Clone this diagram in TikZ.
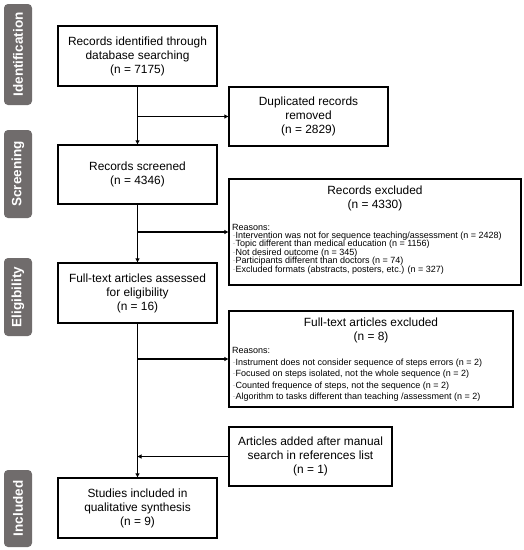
\documentclass[tikz,border=0pt]{standalone}
\usepackage{fontspec}
\setmainfont{Liberation Sans}
\usetikzlibrary{arrows.meta}
\definecolor{labgray}{RGB}{112,108,108}
\begin{document}
\begin{tikzpicture}[x=1pt,y=-1pt,
  box/.style={draw, line width=1.4pt, inner sep=0pt, align=center,
    font=\fontsize{11.9}{14}\selectfont},
  lab/.style={fill=labgray, rounded corners=4pt, rotate=90, text=white,
    inner sep=0pt, font=\fontsize{13.5}{15}\selectfont\bfseries},
  small/.style={anchor=base west, inner sep=0pt, font=\fontsize{9}{9}\selectfont},
  arr/.style={line width=1.5pt, -{Triangle[length=4pt,width=4pt]}}
  ]
\useasboundingbox (0,0) rectangle (524,550);

% stage labels
\node[lab, minimum width=101pt, minimum height=28pt] (lid) at (18,54.5) {Identification};
\node[lab, minimum width=88pt, minimum height=28pt] (lsc) at (18,174) {Screening};
\node[lab, minimum width=78pt, minimum height=28pt] (lel) at (18,297) {Eligibility};
\node[lab, minimum width=77pt, minimum height=28pt] (lin) at (18,508.5) {Included};

% main boxes
\node[box, minimum width=159pt, minimum height=60pt] (b1) at (137.5,56)
  {Records identified through\\database searching\\(n = 7175)};
\node[box, minimum width=159pt, minimum height=59pt] (b2) at (137.5,174.5)
  {Records screened\\(n = 4346)};
\node[box, minimum width=159pt, minimum height=60pt] (b3) at (137.5,293)
  {Full-text articles assessed\\for eligibility\\(n = 16)};
\node[box, minimum width=159pt, minimum height=60pt] (b4) at (137.5,508)
  {Studies included in\\qualitative synthesis\\(n = 9)};

% side boxes
\node[box, minimum width=159pt, minimum height=59pt] (dup) at (308.5,116.5)
  {Duplicated records\\removed\\(n = 2829)};
\node[box, minimum width=292pt, minimum height=106pt] (ex1) at (375,232) {};
\node[box, minimum width=284pt, minimum height=96pt] (ex2) at (371,359) {};
\node[box, minimum width=163pt, minimum height=59pt] (add) at (310.5,456.5)
  {Articles added after manual\\search in references list\\(n = 1)};

% exclusion box 1 text
\node[inner sep=0pt, align=center, font=\fontsize{11.9}{14}\selectfont] (ex1t) at (375,198)
  {Records excluded\\(n = 4330)};
\node[small] (ex1r) at (232,230) {Reasons:};
\foreach \t [count=\i] in {
  {Intervention was not for sequence teaching/assessment (n = 2428)},
  {Topic different than medical education (n = 1156)},
  {Not desired outcome (n = 345)},
  {Participants different than doctors (n = 74)},
  {Excluded formats (abstracts, posters, etc.) (n = 327)}}
  \node[small] (ex1i\i) at (232.5,{230+8.4*\i}) {\textcolor{black!25}{-}\t};

% exclusion box 2 text
\node[inner sep=0pt, align=center, font=\fontsize{11.9}{14.5}\selectfont] (ex2t) at (371,330.5)
  {Full-text articles excluded\\(n = 8)};
\node[small] (ex2r) at (232,353) {Reasons:};
\foreach \t [count=\i] in {
  {Instrument does not consider sequence of steps errors (n = 2)},
  {Focused on steps isolated, not the whole sequence (n = 2)},
  {Counted frequence of steps, not the sequence (n = 2)},
  {Algorithm to tasks different than teaching /assessment (n = 2)}}
  \node[small] (ex2i\i) at (232.5,{353.5+11.5*\i}) {\textcolor{black!25}{-}\t};

% connectors
\draw[arr] (b1.south) -- (b2.north);
\draw[arr] (b2.south) -- (b3.north);
\draw[arr] (b3.south) -- (b4.north);
\draw[arr] (b1.south |- dup.west) -- (dup.west);
\draw[arr] (b2.south |- ex1.west) -- (ex1.west);
\draw[arr] (b3.south |- ex2.west) -- (ex2.west);
\draw[arr] (add.west) -- (add.west -| b4.north);
\end{tikzpicture}
\end{document}
